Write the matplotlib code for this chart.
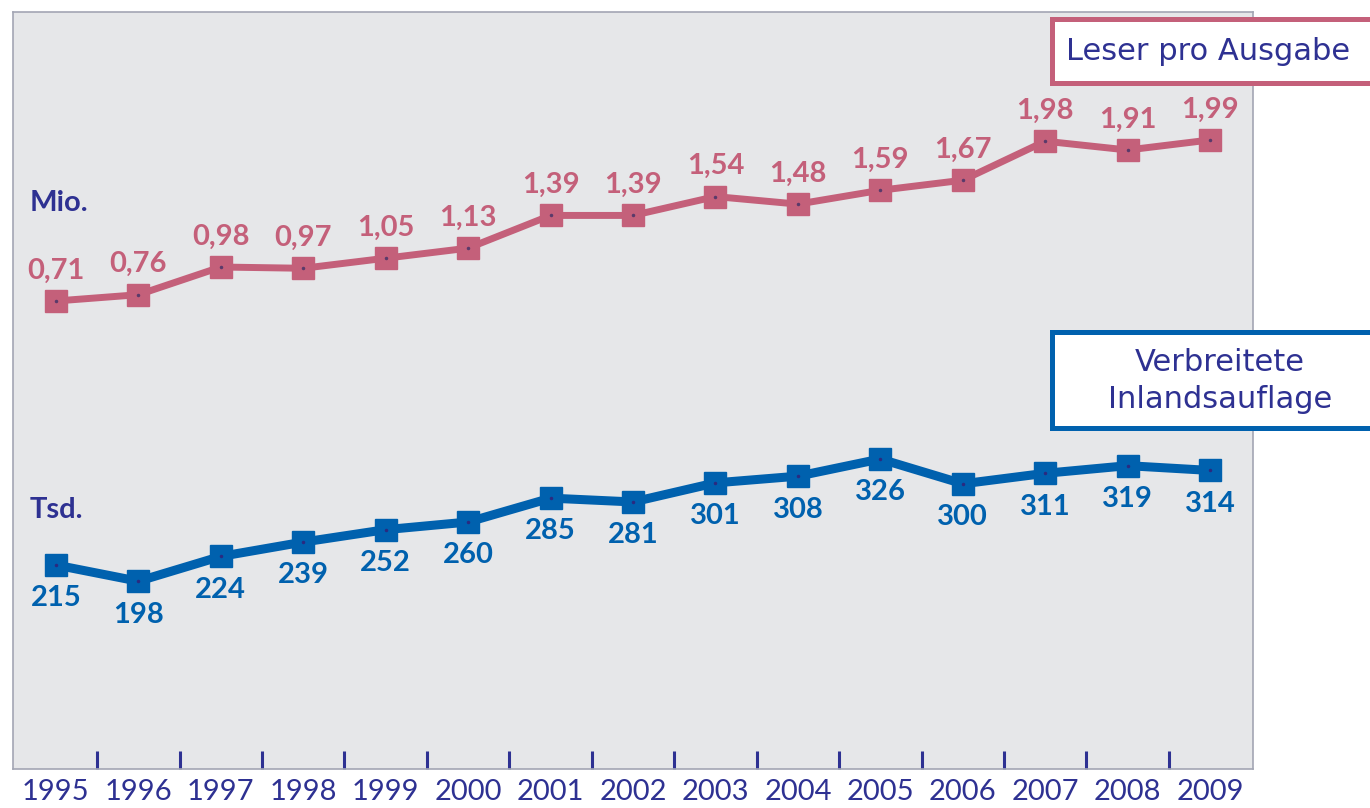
import matplotlib.pyplot as plt
from matplotlib.patches import Rectangle
from matplotlib.ticker import FixedLocator

years = list(range(1995, 2010))
leser = [0.71, 0.76, 0.98, 0.97, 1.05, 1.13, 1.39, 1.39, 1.54, 1.48, 1.59, 1.67, 1.98, 1.91, 1.99]
auflage = [215, 198, 224, 239, 252, 260, 285, 281, 301, 308, 326, 300, 311, 319, 314]

PINK = "#c4607a"
BLUE = "#0061ae"
NAVY = "#2e3192"
W, H = 1370, 808

def fx(x):
    return x / W

def fy(y):
    return 1 - y / H

fig = plt.figure(figsize=(W / 100, H / 100), dpi=100)
ax = fig.add_axes([fx(13), fy(769), fx(1253) - fx(13), fy(12) - fy(769)])
ax.set_facecolor("#e6e7e9")
for s in ax.spines.values():
    s.set_color("#a3a6b4")
    s.set_linewidth(1.2)

x = list(range(len(years)))
ax.set_xlim(-0.52, len(years) - 0.48)
ax.set_ylim(-3.01, 3.007)

# lower series on its own scale
ax2 = ax.twinx()
ax2.set_ylim(1.4, 794)
for a in (ax, ax2):
    a.set_yticks([])
    for s in a.spines.values():
        s.set_visible(a is ax)

ax.plot(x, leser, color=PINK, lw=5, marker="s", ms=16.5, zorder=3)
ax.plot(x, leser, ls="none", marker="o", ms=1.5, color="#5a3a6a", zorder=4)
ax2.plot(x, auflage, color=BLUE, lw=6.5, marker="s", ms=16.5, zorder=3)
ax2.plot(x, auflage, ls="none", marker="o", ms=1.5, color="#2a2a80", zorder=4)

for xi, v in zip(x, leser):
    ax.annotate(f"{v:.2f}".replace(".", ","), (xi, v), xytext=(0, 22), textcoords="offset points",
                ha="center", va="center", color=PINK, fontsize=21, fontweight="bold", family="Lato")
for xi, v in zip(x, auflage):
    ax2.annotate(str(v), (xi, v), xytext=(0, -24), textcoords="offset points",
                 ha="center", va="center", color=BLUE, fontsize=21, fontweight="bold", family="Lato")

# year labels centred, tick marks between years
ax.set_xticks(x)
ax.set_xticklabels([str(y) for y in years], family="Lato", fontsize=21, color=NAVY)
ax.tick_params(axis="x", which="major", length=0, pad=7)
ax.xaxis.set_minor_locator(FixedLocator([i + 0.5 for i in x[:-1]]))
ax.tick_params(axis="x", which="minor", direction="in", length=13, width=2.2, color=NAVY)

fig.text(fx(30), fy(203), "Mio.", color=NAVY, fontsize=21, fontweight="bold", family="Lato", va="center")
fig.text(fx(30), fy(510), "Tsd.", color=NAVY, fontsize=21, fontweight="bold", family="Lato", va="center")

# legend boxes running off the right edge
fig.patches.append(Rectangle((fx(1052), fy(83)), 0.3, fy(19) - fy(83), transform=fig.transFigure,
                             facecolor="white", edgecolor=PINK, lw=3.6, zorder=5))
fig.text(fx(1066), fy(52), "Leser pro Ausgabe", color=NAVY, fontsize=22, va="center", ha="left", zorder=6)
fig.patches.append(Rectangle((fx(1052), fy(428)), 0.3, fy(332) - fy(428), transform=fig.transFigure,
                             facecolor="white", edgecolor=BLUE, lw=3.6, zorder=5))
fig.text(fx(1220), fy(381), "Verbreitete\nInlandsauflage", color=NAVY, fontsize=22, va="center",
         ha="center", multialignment="center", linespacing=1.35, zorder=6)

fig.savefig("out.png", dpi=100)
